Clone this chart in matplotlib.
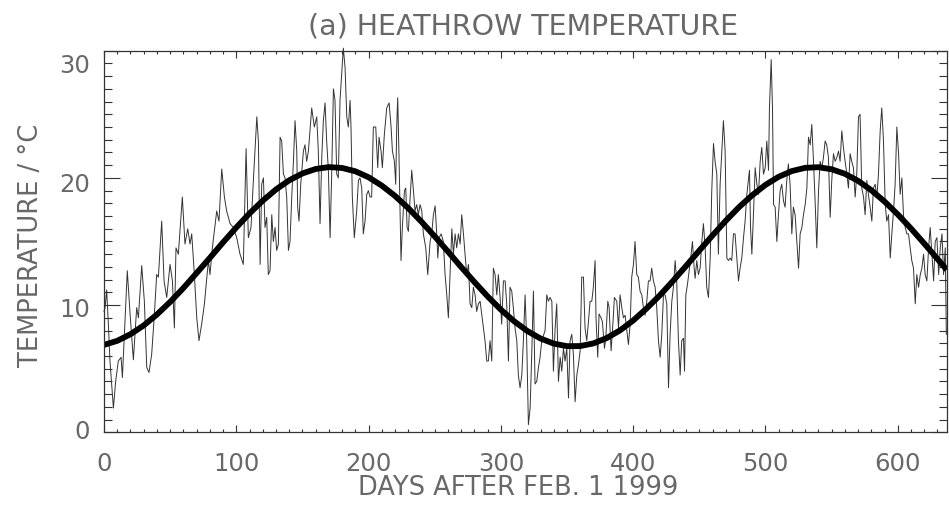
import matplotlib
matplotlib.use("Agg")
import matplotlib.pyplot as plt
import matplotlib.transforms as mtransforms
from matplotlib.ticker import MultipleLocator, FixedLocator, NullFormatter

# daily temperature trace (days after Feb 1 1999, deg C)
day_a = [0, 0.8, 2.0, 3.3, 4.5, 7.1, 8.8, 10.8, 12.9, 13.9, 15.4, 17.6, 19.7, 22.2, 24.7, 26.0, 28.5, 30.5,
         32.3, 34.0, 36.0, 38.1, 39.8, 41.1, 43.6, 45.4, 47.4, 49.9, 51.7, 53.2, 54.4, 56.2, 59.2, 61.2, 63.3,
         65.0, 66.3, 68.3, 70.1, 71.8, 73.8, 75.9, 78.9, 80.1, 81.9, 83.4, 85.2, 86.9, 89.0, 91.0, 92.7, 95.3,
         97.8, 100.3, 102.8]
temp_a = [9.5, 9.8, 11.2, 8.5, 5.6, 1.9, 4.0, 5.6, 5.9, 4.3, 7.7, 12.7, 9.3, 5.7, 9.8, 9.0, 13.1, 10.3,
          5.1, 4.7, 6.1, 9.3, 12.4, 12.2, 16.6, 11.9, 10.6, 13.2, 11.9, 8.2, 14.5, 14.0, 18.5, 14.8, 16.0,
          14.8, 15.6, 12.4, 9.0, 7.2, 8.5, 10.1, 13.5, 12.4, 14.5, 15.8, 17.4, 16.6, 20.7, 18.5, 17.4, 16.4,
          16.1, 15.3, 14.0]

day_b = [105.3, 107.4, 109.1, 111.1, 112.9, 115.5, 116.7, 118.0, 119.2, 120.5, 121.7, 123.0, 124.2, 125.5,
         126.8, 128.0, 129.3, 130.5, 131.8, 133.1, 134.3, 135.6, 136.8, 138.1, 139.4, 140.6, 141.9, 143.1,
         144.4, 145.7, 146.4, 147.4, 148.7, 150.7, 151.9, 153.2, 154.5, 157.0, 159.0, 160.8, 162.0, 163.3,
         164.6, 165.8, 167.1, 168.3, 169.6, 170.9, 172.1, 173.4, 174.6, 175.9, 177.1, 178.4, 179.7, 180.9,
         182.2, 183.5, 184.7, 186.0, 186.7, 187.7, 189.2, 191.0, 192.3, 193.5, 194.8, 196.0, 197.3, 198.6,
         199.8, 201.1, 202.3, 203.6]
temp_b = [13.2, 22.3, 15.3, 16.1, 19.8, 24.8, 22.9, 13.2, 19.5, 20.0, 16.1, 16.9, 12.4, 12.7,
          17.1, 15.0, 16.1, 14.3, 14.8, 23.2, 22.9, 20.3, 20.0, 18.5, 14.3, 15.0, 18.5, 21.1,
          24.5, 22.1, 17.7, 16.6, 19.5, 22.1, 22.6, 21.3, 22.1, 25.5, 24.0, 24.8, 22.1, 16.4,
          21.6, 24.5, 25.9, 22.9, 20.6, 15.3, 20.3, 27.0, 26.1, 20.3, 20.0, 26.1, 28.2, 30.2,
          28.7, 24.8, 24.0, 26.1, 24.0, 18.5, 15.3, 17.4, 19.8, 20.0, 19.2, 15.6, 16.6, 18.7,
          19.0, 18.5, 18.5, 24.0]

day_c = [205.4, 206.9, 207.9, 209.4, 210.4, 211.9, 213.7, 215.5, 217.0, 218.0, 219.5, 220.5, 221.3, 222.0,
         223.0, 224.5, 225.5, 227.1, 228.1, 229.1, 230.1, 231.1, 232.6, 233.9, 235.1, 236.4, 237.6, 238.9,
         240.2, 241.4, 243.2, 244.7, 246.5, 247.7, 249.0, 250.3, 251.5, 252.3, 253.3, 254.8, 256.5, 257.8,
         259.1, 260.3, 261.6, 262.9, 264.1, 265.4, 266.6, 267.9, 269.2, 270.4, 271.7, 272.9, 274.2, 275.5,
         276.7, 278.0, 279.2, 280.5, 281.7, 283.0, 284.3, 285.5, 286.8, 288.0, 289.3, 290.5, 291.8, 293.1,
         294.3, 295.6, 296.9, 298.1, 299.4, 300.6, 301.9, 303.2, 304.4, 305.7, 306.9, 308.2, 309.4, 310.7,
         312.0, 313.2]
temp_c = [24.0, 20.8, 23.2, 22.1, 20.8, 23.4, 25.5, 25.9, 24.0, 22.1, 21.3, 19.5, 24.2, 26.3,
          21.6, 13.5, 16.1, 19.0, 19.2, 16.1, 15.8, 17.9, 20.6, 19.0, 17.4, 17.9, 17.1, 17.9,
          17.4, 15.6, 14.5, 12.4, 15.0, 15.6, 17.1, 17.8, 15.6, 13.7, 15.3, 15.6, 15.0, 12.4,
          10.8, 9.0, 12.4, 16.0, 14.0, 15.6, 14.5, 15.6, 14.8, 17.1, 15.6, 14.0, 12.4, 13.2,
          10.1, 9.8, 11.4, 10.8, 9.5, 10.1, 10.3, 9.3, 8.2, 7.2, 5.6, 5.6, 7.2, 5.6,
          12.9, 12.4, 10.8, 12.4, 10.6, 8.5, 11.9, 11.9, 10.1, 5.6, 11.4, 11.1, 9.8, 8.2,
          7.2, 4.5]

day_d = [314.5, 315.8, 317.0, 318.3, 319.5, 320.8, 322.1, 323.3, 324.6, 325.8, 327.1, 328.4, 329.6, 330.9,
         333.4, 334.7, 335.9, 337.2, 338.5, 339.7, 341.0, 342.2, 343.5, 344.8, 346.0, 347.3, 348.5, 349.8,
         351.1, 352.3, 353.6, 354.8, 356.1, 357.4, 358.6, 359.9, 361.1, 362.4, 363.6, 364.9, 366.2, 367.4,
         368.7, 369.9, 371.2, 371.9, 373.2, 374.2, 375.7, 376.7, 378.3, 379.3, 380.8, 381.8, 383.3, 384.3,
         385.8, 387.6, 388.9, 390.1, 391.4, 392.6, 393.9, 395.2, 396.4, 397.7, 398.9, 400.2, 401.4, 402.7,
         403.9, 405.2, 406.5, 407.7, 409.0, 410.3, 411.5, 412.8, 414.0, 415.3, 416.6, 417.8, 419.1, 420.4,
         421.6, 422.9]
temp_d = [3.5, 4.5, 7.2, 10.8, 7.2, 0.6, 1.9, 6.1, 11.1, 3.8, 4.0, 5.1, 5.9, 7.2,
          8.0, 10.8, 10.3, 10.6, 10.3, 4.8, 8.2, 10.1, 4.0, 5.9, 4.8, 6.6, 5.6, 6.6,
          2.7, 7.2, 7.7, 6.1, 2.4, 4.5, 5.3, 6.4, 12.2, 12.2, 8.2, 7.2, 8.7, 10.3,
          10.3, 11.4, 13.5, 9.0, 5.9, 9.3, 9.0, 8.7, 6.6, 7.4, 10.3, 9.8, 6.4, 7.9,
          10.6, 10.3, 8.2, 10.8, 9.8, 9.0, 9.2, 8.0, 6.9, 8.5, 12.2, 13.2, 15.0, 12.4,
          12.2, 11.1, 10.8, 9.8, 9.2, 10.3, 11.9, 11.9, 12.9, 11.9, 11.4, 9.8, 7.2, 5.9,
          7.7, 10.8]

day_e = [424.1, 425.4, 426.7, 427.9, 429.2, 430.4, 431.7, 432.9, 434.2, 435.5, 436.7, 438.0, 438.8, 439.8,
         441.0, 442.3, 443.5, 444.8, 446.1, 446.8, 448.1, 449.3, 450.6, 451.9, 453.1, 454.4, 455.6, 456.9,
         458.2, 459.4, 460.7, 461.9, 463.2, 464.4, 465.7, 467.0, 468.2, 469.5, 470.8, 472.0, 473.3, 474.5,
         475.8, 477.0, 478.3, 479.6, 480.8, 482.1, 483.4, 484.6, 485.9, 487.1, 487.9, 488.7, 489.7, 490.9,
         492.2, 493.5, 494.7, 496.0, 497.2, 498.5, 499.8, 501.0, 502.3, 503.0, 504.3, 505.3, 506.1, 507.3,
         508.6, 509.8, 511.1, 512.3, 513.6, 514.8, 516.1, 517.3, 518.6, 519.9, 521.1, 522.4]
temp_e = [10.8, 10.1, 3.5, 7.7, 10.3, 11.4, 13.5, 11.9, 7.2, 4.5, 7.2, 7.4, 4.8, 10.8,
          11.6, 12.7, 13.7, 15.0, 12.9, 12.1, 13.5, 12.4, 12.9, 15.0, 16.4, 14.5, 11.4, 10.6,
          13.7, 19.0, 22.7, 21.3, 20.3, 14.0, 19.5, 22.1, 24.5, 22.1, 13.7, 13.5, 13.7, 13.5,
          15.6, 15.6, 13.7, 11.9, 12.9, 13.7, 15.3, 16.6, 18.7, 19.8, 20.6, 16.1, 14.0, 17.1,
          20.8, 19.5, 18.7, 21.3, 22.4, 20.3, 20.8, 22.9, 20.6, 25.5, 29.3, 25.5, 17.9, 17.7,
          15.0, 17.1, 19.0, 19.5, 18.2, 17.7, 19.8, 21.1, 19.5, 15.6, 17.7, 17.1]

day_f = [525.0, 526.2, 527.5, 528.7, 530.0, 531.3, 532.5, 533.8, 535.0, 536.3, 537.5, 538.8, 540.1, 541.3,
         542.6, 543.8, 545.1, 546.3, 547.6, 548.9, 550.1, 551.4, 552.7, 553.9, 555.2, 556.4, 557.7, 558.9,
         560.2, 561.5, 562.7, 564.0, 565.2, 566.5, 567.8, 569.0, 570.3, 571.5, 572.8, 574.1, 575.3, 576.6,
         577.8, 579.1, 580.4, 581.6, 582.9, 584.2, 585.4, 586.7, 587.9, 589.2, 590.5, 591.7, 593.0, 594.3,
         595.5, 596.8, 598.0, 599.3, 600.6, 601.8, 603.1, 604.3, 605.6, 606.9, 608.1, 609.4, 610.6, 611.9,
         613.2, 614.4, 615.7, 617.0, 618.2, 619.5, 620.7, 622.0, 623.3, 624.5, 625.8, 627.1, 628.3, 629.6,
         630.9, 632.1, 633.4, 634.6, 635.9, 636.7]
temp_f = [12.9, 15.6, 16.1, 17.1, 17.9, 19.2, 23.2, 22.6, 24.2, 21.3, 18.2, 14.5, 19.0, 21.3,
          20.8, 21.6, 22.9, 22.6, 21.6, 16.9, 19.8, 21.9, 21.3, 21.6, 22.1, 21.3, 23.7, 22.4,
          21.3, 20.3, 19.2, 21.9, 21.3, 20.8, 18.5, 20.3, 24.8, 25.0, 19.2, 18.5, 17.1, 19.8,
          18.7, 17.7, 16.6, 19.2, 19.5, 18.5, 20.3, 23.7, 25.5, 22.9, 17.9, 16.6, 17.1, 13.7,
          15.6, 17.4, 19.5, 24.0, 21.9, 18.7, 20.0, 17.1, 16.1, 15.6, 15.6, 14.5, 13.5, 12.9,
          10.1, 12.4, 11.4, 12.4, 12.9, 14.0, 12.4, 11.9, 14.5, 16.1, 14.0, 11.9, 15.0, 15.3,
          12.4, 14.5, 15.6, 12.4, 14.5, 7.7]

obs_day = day_a + day_b + day_c + day_d + day_e + day_f
obs_temp = temp_a + temp_b + temp_c + temp_d + temp_e + temp_f

# fitted annual cycle, read every 10 days
fit_day = list(range(0, 631, 10)) + [637]
fit_temp = [6.87, 7.19, 7.71, 8.40, 9.26, 10.25, 11.34, 12.52, 13.71, 14.93,
            16.10, 17.21, 18.21, 19.09, 19.81, 20.35, 20.70, 20.85, 20.78, 20.52,
            20.05, 19.39, 18.58, 17.62, 16.55, 15.40, 14.21, 12.99, 11.81, 10.68,
            9.64, 8.73, 7.96, 7.37, 6.97, 6.77, 6.78, 6.99, 7.41, 8.01,
            8.79, 9.72, 10.75, 11.89, 13.08, 14.29, 15.48, 16.63, 17.70, 18.64,
            19.45, 20.09, 20.54, 20.79, 20.84, 20.68, 20.32, 19.77, 19.03, 18.14,
            17.13, 16.02, 14.84, 13.63, 12.78]

ytick_vals = [0, 10, 20, 30]
ytick_text = ['0', '10', '20', '30']
# the printed y labels sit a little off their ticks in the original (pixels, up = +)
ytick_shift = [3, -2, -5, -13]

plt.rcParams['font.family'] = ['DejaVu Sans']
txt = '#686868'

fig = plt.figure(figsize=(9.49, 5.05), dpi=100)
ax = fig.add_axes([0.1096, 0.1440, 0.888, 0.7556])

ax.plot(obs_day, obs_temp, color='#333333', lw=0.7, clip_on=False)
ax.plot(fit_day, fit_temp, color='black', lw=4.2, solid_capstyle='butt')

ax.set_xlim(0, 637)
ax.set_ylim(0, 30)
ax.xaxis.set_major_locator(MultipleLocator(100))
ax.xaxis.set_minor_locator(MultipleLocator(10))
ax.yaxis.set_major_locator(FixedLocator(ytick_vals))
ax.yaxis.set_minor_locator(MultipleLocator(1))
ax.yaxis.set_major_formatter(NullFormatter())

ax.tick_params(which='both', direction='in', top=True, right=True, colors='#333333',
               labelcolor=txt, labelsize=17.5)
ax.tick_params(axis='x', which='major', length=5, width=0.8, pad=14)
ax.tick_params(axis='x', which='minor', length=2.5, width=0.8)
ax.tick_params(axis='y', which='major', length=11.5, width=0.8)
ax.tick_params(axis='y', which='minor', length=5.5, width=0.8)
for s in ax.spines.values():
    s.set_linewidth(0.9)
    s.set_color('#333333')

blend = mtransforms.blended_transform_factory(ax.transAxes, ax.transData)
for val, lab, dy in zip(ytick_vals, ytick_text, ytick_shift):
    off = mtransforms.ScaledTranslation(-14 / 100, dy / 100, fig.dpi_scale_trans)
    ax.text(0, val, lab, transform=blend + off, ha='right', va='center_baseline',
            fontsize=17.5, color=txt, clip_on=False)

fig.text(0.5516, 0.9307, '(a) HEATHROW TEMPERATURE', ha='center', va='baseline', fontsize=20.5, color=txt)
fig.text(0.5464, 0.0198, 'DAYS AFTER FEB. 1 1999', ha='center', va='baseline', fontsize=18.5, color=txt)
fig.text(0.033, 0.515, 'TEMPERATURE / °C', ha='center', va='center', rotation=90, fontsize=18.5, color=txt)

fig.savefig('out.png', dpi=100)
